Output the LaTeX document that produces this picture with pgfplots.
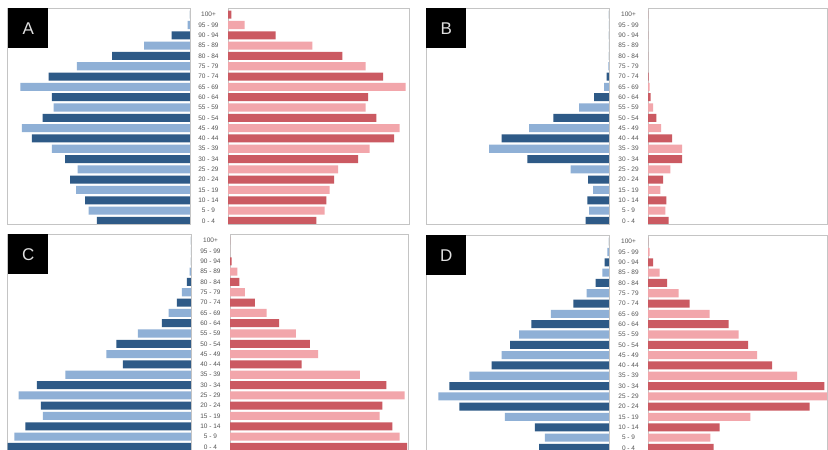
\documentclass[border=0pt]{standalone}
\usepackage{pgfplots}
\usepackage{pgfplotstable}
\pgfplotsset{compat=1.18}
\usepackage{fontspec}
\setmainfont{Liberation Sans}

\definecolor{mdark}{HTML}{2E5A87}
\definecolor{mlight}{HTML}{8FB0D6}
\definecolor{fdark}{HTML}{CB5A62}
\definecolor{flight}{HTML}{F2A6AB}
\definecolor{frame}{HTML}{C4C4C4}
\definecolor{agetxt}{HTML}{555555}

% y: 0 = "0 - 4", ..., 20 = "100+"
\pgfplotstableread{
y m f
0 280 265
1 305 290
2 315 295
3 342 305
4 360 318
5 338 330
6 375 390
7 415 425
8 475 498
9 505 515
10 443 445
11 410 413
12 415 420
13 510 533
14 425 465
15 340 413
16 234 343
17 138 253
18 55 143
19 7 50
20 0 10
}\tabA
\pgfplotstableread{
y m f
0 70 62
1 60 52
2 65 55
3 48 37
4 63 45
5 115 67
6 245 102
7 360 102
8 323 72
9 240 39
10 167 25
11 90 15
12 45 8
13 15 5
14 7 2
15 2 0
16 0 0
17 0 0
18 0 0
19 0 0
20 0 0
}\tabB
\pgfplotstableread{
y m f
0 550 532
1 530 510
2 497 488
3 444 450
4 450 458
5 517 525
6 462 470
7 377 390
8 204 215
9 254 265
10 224 240
11 159 198
12 87 148
13 67 110
14 42 75
15 27 45
16 12 28
17 4 22
18 0 5
19 0 0
20 0 0
}\tabC
\pgfplotstableread{
y m f
0 210 197
1 193 187
2 223 215
3 313 307
4 450 485
5 513 537
6 480 529
7 420 447
8 353 372
9 323 327
10 297 300
11 270 272
12 233 242
13 175 185
14 107 125
15 67 92
16 40 57
17 20 35
18 13 15
19 5 5
20 0 0
}\tabD

\pgfplotsset{
  pyr/.style={scale only axis, height=216pt, anchor=north west,
    ymin=-0.3, ymax=20.65, xmin=0, xbar, bar width=0.78, bar shift=0pt,
    axis line style={draw=frame, line width=0.9pt},
    xtick=\empty, ytick=\empty, clip=true},
  pyrright/.style={pyr, ytick={0,...,20},
    yticklabels={0 - 4,5 - 9,10 - 14,15 - 19,20 - 24,25 - 29,30 - 34,35 - 39,40 - 44,45 - 49,50 - 54,55 - 59,60 - 64,65 - 69,70 - 74,75 - 79,80 - 84,85 - 89,90 - 94,95 - 99,100+},
    major tick length=0pt, tick style={draw=none},
    yticklabel style={font=\fontsize{6.5}{6.5}\selectfont, text=agetxt, anchor=center, xshift=-19.5pt, inner sep=0pt}},
}
\newcommand{\bars}[4]{%
  \addplot[fill=#3, draw=none, restrict expr to domain={mod(\coordindex,2)}{0:0}] table[x=#2, y=y] {#1};
  \addplot[fill=#4, draw=none, restrict expr to domain={mod(\coordindex,2)}{1:1}] table[x=#2, y=y] {#1};
}
\tikzset{letterbox/.style={fill=black, minimum width=40pt, minimum height=40pt, anchor=north west, inner sep=0pt, text=black!12, font=\fontsize{17}{17}\selectfont}}

\begin{document}
\begin{tikzpicture}
\path[use as bounding box, clip] (0pt,0pt) rectangle (828pt,450pt);
\fill[white] (0pt,0pt) rectangle (828pt,450pt);

% Panel A
\begin{axis}[pyr, at={(7pt,442pt)}, width=183pt, xmax=550, x dir=reverse]
\bars{\tabA}{m}{mdark}{mlight}
\end{axis}
\begin{axis}[pyrright, at={(228pt,442pt)}, width=181pt, xmax=543]
\bars{\tabA}{f}{fdark}{flight}
\end{axis}
\node[letterbox] at (8pt,442pt) {A};

% Panel B
\begin{axis}[pyr, at={(426pt,442pt)}, width=183pt, xmax=550, x dir=reverse]
\bars{\tabB}{m}{mdark}{mlight}
\end{axis}
\begin{axis}[pyrright, at={(648pt,442pt)}, width=179pt, xmax=537]
\bars{\tabB}{f}{fdark}{flight}
\end{axis}
\node[letterbox] at (426pt,442pt) {B};

% Panel C
\begin{axis}[pyr, at={(7pt,216pt)}, width=184pt, xmax=552, x dir=reverse]
\bars{\tabC}{m}{mdark}{mlight}
\end{axis}
\begin{axis}[pyrright, at={(230pt,216pt)}, width=178pt, xmax=535]
\bars{\tabC}{f}{fdark}{flight}
\end{axis}
\node[letterbox] at (8pt,216pt) {C};

% Panel D
\begin{axis}[pyr, at={(426pt,215pt)}, width=183pt, xmax=550, x dir=reverse]
\bars{\tabD}{m}{mdark}{mlight}
\end{axis}
\begin{axis}[pyrright, at={(648pt,215pt)}, width=179pt, xmax=537]
\bars{\tabD}{f}{fdark}{flight}
\end{axis}
\node[letterbox] at (426pt,215pt) {D};
\end{tikzpicture}
\end{document}
